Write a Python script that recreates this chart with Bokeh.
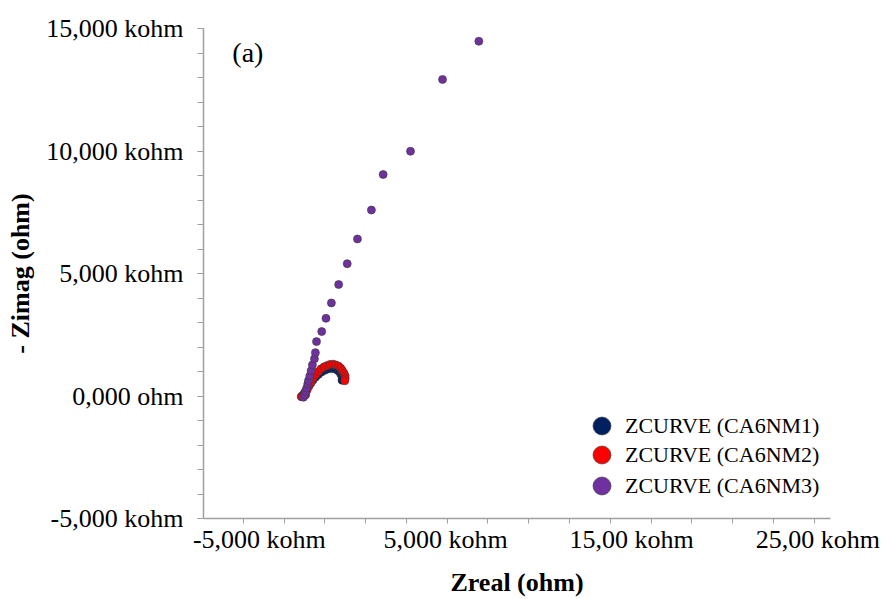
from bokeh.plotting import figure
from bokeh.models import FixedTicker, Legend, LegendItem, Label, Range1d
from bokeh.embed import file_html
from bokeh.resources import INLINE

# ---- data (kohm) ----
nm1_x = [-2.74, -2.65, -2.55, -2.45, -2.35, -2.24, -2.12, -1.98, -1.83, -1.68, -1.52,
         -1.36, -1.20, -1.05, -0.92, -0.80, -0.70, -0.62, -0.57, -0.55, -0.56]
nm1_y = [-0.02, 0.05, 0.15, 0.28, 0.40, 0.52, 0.65, 0.77, 0.88, 0.97, 1.04,
         1.09, 1.12, 1.12, 1.10, 1.05, 0.98, 0.90, 0.81, 0.72, 0.64]

nm2_x = [-2.74, -2.63, -2.51, -2.43, -2.33, -2.24, -2.11, -1.97, -1.83, -1.68, -1.52,
         -1.36, -1.20, -1.04, -0.90, -0.75, -0.63, -0.54, -0.45, -0.39, -0.39, -0.41]
nm2_y = [-0.03, 0.01, 0.05, 0.25, 0.42, 0.55, 0.73, 0.88, 1.00, 1.11, 1.19,
         1.24, 1.29, 1.30, 1.27, 1.22, 1.14, 1.04, 0.93, 0.82, 0.71, 0.62]

nm3_x = [-2.63, -2.56, -2.51, -2.46, -2.40, -2.36, -2.29, -2.22, -2.15, -2.04, -1.99,
         -1.93, -1.65, -1.42, -1.13, -0.74, -0.28, 0.27, 1.02, 1.65, 3.12, 4.84, 6.79]
nm3_y = [-0.05, 0.05, 0.19, 0.32, 0.49, 0.63, 0.82, 1.03, 1.27, 1.52, 1.77,
         2.22, 2.63, 3.17, 3.80, 4.55, 5.40, 6.41, 7.59, 9.04, 9.99, 12.92, 14.48]

series_names = ["ZCURVE (CA6NM1)", "ZCURVE (CA6NM2)", "ZCURVE (CA6NM3)"]
series_colors = ["#002060", "#FF0000", "#7030A0"]

y_major = [-5, 0, 5, 10, 15]
y_labels = ["-5,000 kohm", "0,000 ohm", "5,000 kohm", "10,000 kohm", "15,000 kohm"]
y_minor = list(range(-5, 16))

x_major = [-5, 5, 15, 25]
x_labels = ["-5,000 kohm", "5,000 kohm", "15,00 kohm", "25,00 kohm"]
x_minor = [round(-5.86 + 2.19 * i, 3) for i in range(15)]

FONT = "Liberation Serif"

p = figure(width=882, height=599, output_backend="svg", toolbar_location=None,
           x_range=Range1d(-8.0, 25.68), y_range=Range1d(-5, 15),
           min_border_left=203, min_border_right=52, min_border_top=28,
           min_border_bottom=80)
p.xgrid.visible = False
p.ygrid.visible = False
p.outline_line_color = None
p.background_fill_color = "white"
p.border_fill_color = "white"

axis_gray = "#a0a0a0"

xa = p.xaxis[0]
xa.ticker = FixedTicker(ticks=x_major, minor_ticks=x_minor)
xa.major_label_overrides = {v: s for v, s in zip(x_major, x_labels)}
xa.axis_line_color = axis_gray
xa.axis_line_width = 1.5
xa.major_tick_out = 0
xa.major_tick_in = 0
xa.minor_tick_out = 5
xa.minor_tick_in = 0
xa.minor_tick_line_color = axis_gray
xa.major_tick_line_color = axis_gray
xa.major_label_text_font = FONT
xa.major_label_text_font_size = "26px"
xa.major_label_text_color = "black"
xa.major_label_standoff = 1
xa.axis_label = "Zreal (ohm)"
xa.axis_label_text_font = FONT
xa.axis_label_text_font_size = "26px"
xa.axis_label_text_font_style = "bold"
xa.axis_label_text_color = "black"
xa.axis_label_standoff = 11

ya = p.yaxis[0]
ya.ticker = FixedTicker(ticks=y_major, minor_ticks=y_minor)
ya.major_label_overrides = {v: s for v, s in zip(y_major, y_labels)}
ya.axis_line_color = axis_gray
ya.axis_line_width = 1.5
ya.major_tick_out = 6
ya.major_tick_in = 0
ya.minor_tick_out = 6
ya.minor_tick_in = 0
ya.minor_tick_line_color = axis_gray
ya.major_tick_line_color = axis_gray
ya.major_label_text_font = FONT
ya.major_label_text_font_size = "26px"
ya.major_label_text_color = "black"
ya.major_label_standoff = 14
ya.axis_label = "- Zimag (ohm)"
ya.axis_label_text_font = FONT
ya.axis_label_text_font_size = "26px"
ya.axis_label_text_font_style = "bold"
ya.axis_label_text_color = "black"
ya.axis_label_standoff = 8

renderers = []
for xs, ys, c in zip([nm1_x, nm2_x, nm3_x], [nm1_y, nm2_y, nm3_y], series_colors):
    r = p.scatter(xs, ys, marker="circle", size=8, fill_color=c,
                  line_color="#3a3a3a", line_width=0.8, line_alpha=0.8)
    renderers.append(r)

# one single-row legend per series, so that rows can sit closer than the swatch box
legend_rows_y = [70, 41, 10]
for name, r, ly in zip(series_names, renderers, legend_rows_y):
    lg = Legend(items=[LegendItem(label=name, renderers=[r])],
                location=(376, ly), glyph_width=45, glyph_height=45, spacing=0,
                label_standoff=1, padding=0, margin=0,
                border_line_alpha=0, background_fill_alpha=0,
                label_text_font=FONT, label_text_font_size="22px",
                label_text_color="black")
    p.add_layout(lg)

p.add_layout(Label(x=-6.45, y=14.02, text="(a)", text_font=FONT, text_font_size="28px",
                   text_align="left", text_baseline="middle", text_color="black"))

open("out.html", "w").write(file_html(p, INLINE))
